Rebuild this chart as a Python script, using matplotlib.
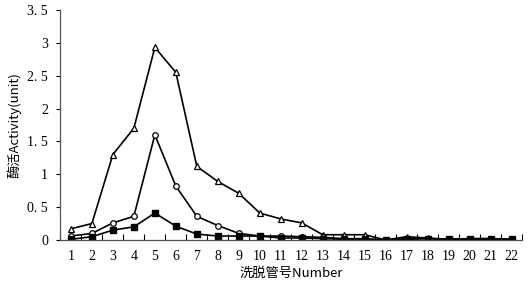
import matplotlib
matplotlib.use('Agg')
import matplotlib.pyplot as plt
import numpy as np

plt.rcParams['font.family'] = ['Liberation Serif', 'Noto Sans CJK SC', 'DejaVu Sans']

# tube numbers
tubes = list(range(1, 23))
tick_labels = [str(t) for t in tubes]

# activity series
triangle = [0.17, 0.25, 1.30, 1.70, 2.93, 2.55, 1.12, 0.89, 0.71, 0.41, 0.32, 0.26,
            0.08, 0.08, 0.08, 0.00, 0.05, 0.03, 0.01, 0.02, 0.02, 0.01]
circle = [0.06, 0.10, 0.26, 0.36, 1.60, 0.82, 0.36, 0.22, 0.10, 0.06, 0.06, 0.05,
          0.04, 0.02, 0.02, 0.00, 0.02, 0.02, 0.01, 0.01, 0.01, 0.01]
square = [0.01, 0.05, 0.15, 0.20, 0.41, 0.21, 0.09, 0.06, 0.06, 0.06, 0.03, 0.03,
          0.02, 0.01, 0.01, 0.00, 0.01, 0.02, 0.01, 0.02, 0.02, 0.01]

y_ticks = [0, 0.5, 1, 1.5, 2, 2.5, 3, 3.5]
y_tick_labels = ['0', '0. 5', '1', '1. 5', '2', '2. 5', '3', '3. 5']

fig = plt.figure(figsize=(5.3, 2.83), dpi=100)
ax = fig.add_axes([0.114, 0.152, 0.871, 0.813])

lw = 1.2
ax.plot(tubes, triangle, 'k-', marker='^', markersize=4, markerfacecolor='white',
        markeredgecolor='black', markeredgewidth=0.9, linewidth=lw)
ax.plot(tubes, circle, 'k-', marker='o', markersize=4, markerfacecolor='white',
        markeredgecolor='black', markeredgewidth=0.9, linewidth=lw)
ax.plot(tubes, square, 'k-', marker='s', markersize=4, markerfacecolor='black',
        markeredgecolor='black', linewidth=lw)

ax.set_xlim(0.5, 22.5)
ax.set_ylim(0, 3.5)
ax.set_xticks(tubes)
ax.set_xticklabels(tick_labels, fontsize=10)
ax.set_xticks(np.arange(0.5, 23, 1), minor=True)
ax.tick_params(axis='x', which='major', length=0, pad=7)
ax.tick_params(axis='x', which='minor', direction='in', length=4, width=0.8)
ax.set_yticks(y_ticks)
ax.set_yticklabels(y_tick_labels, fontsize=10)
ax.tick_params(axis='y', direction='out', length=3, width=0.8, pad=6)

for s in ['top', 'right']:
    ax.spines[s].set_visible(False)
for s in ['left', 'bottom']:
    ax.spines[s].set_color('#555555')
    ax.spines[s].set_linewidth(0.9)

ax.set_xlabel('洗脱管号Number', fontsize=9.5, family=['Noto Sans CJK SC', 'DejaVu Sans'], labelpad=3)
ax.set_ylabel('酶活Activity(unit)', fontsize=9.5, family=['Noto Sans CJK SC', 'DejaVu Sans'], labelpad=4)

plt.savefig('out.png', dpi=100)
